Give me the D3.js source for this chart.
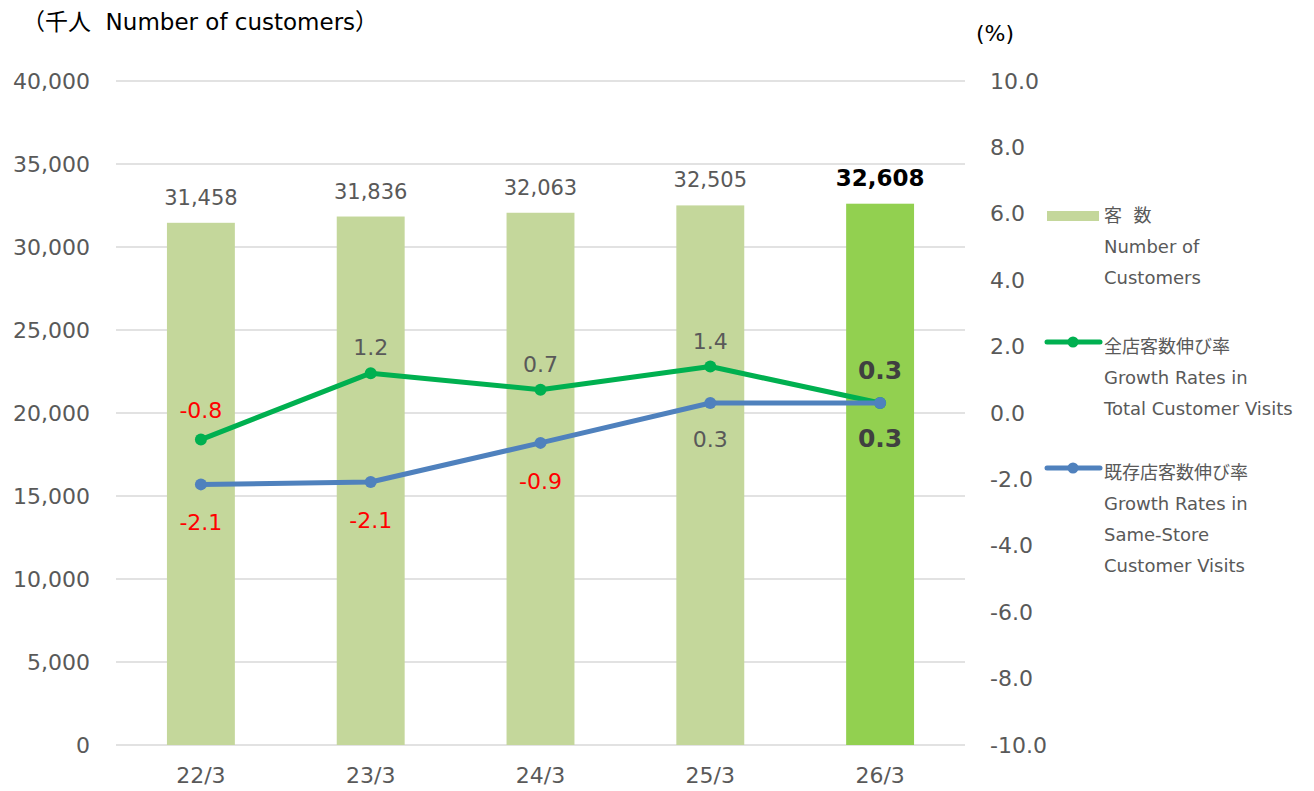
<!DOCTYPE html>
<html><head><meta charset="utf-8">
<script src="https://cdn.jsdelivr.net/npm/d3@7"></script>
<style>body{margin:0;background:#fff;} text{font-family:"DejaVu Sans","Noto Sans CJK JP",sans-serif;white-space:pre;}</style>
</head><body>
<svg id="c" width="1314" height="791"></svg>
<script>
const categories = ["22/3","23/3","24/3","25/3","26/3"];
const customers = [31458, 31836, 32063, 32505, 32608];
const totalGrowth = [-0.8, 1.2, 0.7, 1.4, 0.3];
const sameStoreGrowth = [-2.15, -2.08, -0.9, 0.3, 0.3];
const sameStoreLabels = ["-2.1","-2.1","-0.9","0.3","0.3"];
const totalLabels = ["-0.8","1.2","0.7","1.4","0.3"];
const leftTicks = [0,5000,10000,15000,20000,25000,30000,35000,40000];
const rightTicks = [-10,-8,-6,-4,-2,0,2,4,6,8,10];

const svg = d3.select("#c");
const x = d3.scaleBand().domain(categories).range([116,965]).paddingInner(0.6).paddingOuter(0.3);
const xc = d => x(d) + x.bandwidth()/2;
const yL = d3.scaleLinear().domain([0,40000]).range([745,81]);
const yR = d3.scaleLinear().domain([-10,10]).range([745,81]);
const gray = "#595959";

svg.append("g").selectAll("line").data(leftTicks).join("line")
  .attr("x1",116).attr("x2",965).attr("y1",d=>yL(d)).attr("y2",d=>yL(d))
  .attr("stroke","#d9d9d9").attr("stroke-width",1.5);

const la = svg.append("g").attr("transform","translate(116,0)")
  .call(d3.axisLeft(yL).tickValues(leftTicks).tickFormat(d3.format(",")).tickSize(0).tickPadding(26));
la.select(".domain").remove();
la.selectAll("text").attr("font-size",22).attr("fill",gray).attr("font-family","DejaVu Sans");

const ra = svg.append("g").attr("transform","translate(965,0)")
  .call(d3.axisRight(yR).tickValues(rightTicks).tickFormat(d => d.toFixed(1)).tickSize(0).tickPadding(25));
ra.select(".domain").remove();
ra.selectAll("text").attr("font-size",22).attr("fill",gray).attr("font-family","DejaVu Sans");

const xa = svg.append("g").attr("transform","translate(0,745)")
  .call(d3.axisBottom(x).tickSize(0).tickPadding(22));
xa.select(".domain").remove();
xa.selectAll("text").attr("font-size",22).attr("fill",gray).attr("font-family","DejaVu Sans");

svg.append("g").selectAll("rect").data(customers).join("rect")
  .attr("x",(d,i)=>x(categories[i])).attr("width",x.bandwidth())
  .attr("y",d=>yL(d)).attr("height",d=>yL(0)-yL(d))
  .attr("fill",(d,i)=>i===4?"#92D050":"#C4D79B");

svg.append("g").selectAll("text").data(customers).join("text")
  .attr("x",(d,i)=>xc(categories[i])).attr("y",d=>yL(d)-18)
  .attr("text-anchor","middle")
  .attr("font-size",(d,i)=>i===4?23:21)
  .attr("font-weight",(d,i)=>i===4?"bold":"normal")
  .attr("fill",(d,i)=>i===4?"#000":gray)
  .text(d3.format(","));

function drawLine(vals,color){
  svg.append("path").datum(vals)
    .attr("d",d3.line().x((d,i)=>xc(categories[i])).y(d=>yR(d)))
    .attr("fill","none").attr("stroke",color).attr("stroke-width",5).attr("stroke-linejoin","round");
  svg.append("g").selectAll("circle").data(vals).join("circle")
    .attr("cx",(d,i)=>xc(categories[i])).attr("cy",d=>yR(d)).attr("r",6).attr("fill",color);
}
drawLine(totalGrowth,"#00B050");
drawLine(sameStoreGrowth,"#4F81BD");

const tl = svg.append("g");
totalLabels.forEach((t,i)=>{
  const neg = totalGrowth[i]<0, last = i===4;
  tl.append("text").attr("x",xc(categories[i])).attr("y",yR(totalGrowth[i]) - (last?24:(neg?22:18)))
    .attr("text-anchor","middle").attr("font-size",last?25:22).attr("font-weight",last?"bold":"normal")
    .attr("fill",neg?"#FF0000":(last?"#404040":gray)).text(t);
});
sameStoreLabels.forEach((t,i)=>{
  const neg = sameStoreGrowth[i]<0, last = i===4;
  tl.append("text").attr("x",xc(categories[i])).attr("y",yR(sameStoreGrowth[i]) + (neg?46:44))
    .attr("text-anchor","middle").attr("font-size",last?25:22).attr("font-weight",last?"bold":"normal")
    .attr("fill",neg?"#FF0000":(last?"#404040":gray)).text(t);
});

svg.append("text").attr("x",22).attr("y",30).attr("font-size",23).attr("fill","#000")
  .text("（千人  Number of customers）");
svg.append("text").attr("x",976).attr("y",41).attr("font-size",22).attr("fill","#000").text("(%)");

const lg = svg.append("g").attr("font-size",18).attr("fill",gray);
lg.append("rect").attr("x",1047).attr("y",211).attr("width",52).attr("height",10).attr("fill","#C4D79B");
[["客  数",222],["Number of",253],["Customers",284]].forEach(([t,y])=>lg.append("text").attr("x",1104).attr("y",y).attr("fill",gray).text(t));
lg.append("line").attr("x1",1047).attr("x2",1100).attr("y1",342).attr("y2",342).attr("stroke","#00B050").attr("stroke-width",5).attr("stroke-linecap","round");
lg.append("circle").attr("cx",1073).attr("cy",342).attr("r",5.5).attr("fill","#00B050");
[["全店客数伸び率",353],["Growth Rates in",384],["Total Customer Visits",415]].forEach(([t,y])=>lg.append("text").attr("x",1104).attr("y",y).attr("fill",gray).text(t));
lg.append("line").attr("x1",1047).attr("x2",1100).attr("y1",468).attr("y2",468).attr("stroke","#4F81BD").attr("stroke-width",5).attr("stroke-linecap","round");
lg.append("circle").attr("cx",1073).attr("cy",468).attr("r",5.5).attr("fill","#4F81BD");
[["既存店客数伸び率",479],["Growth Rates in",510],["Same-Store",541],["Customer Visits",572]].forEach(([t,y])=>lg.append("text").attr("x",1104).attr("y",y).attr("fill",gray).text(t));
</script>
</body></html>
